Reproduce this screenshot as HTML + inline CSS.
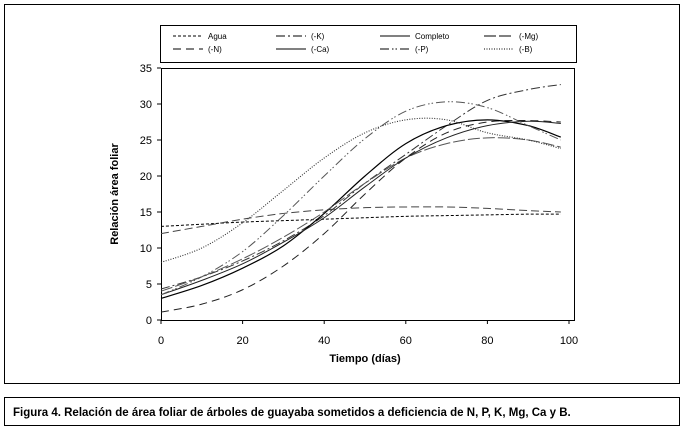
<!DOCTYPE html>
<html><head><meta charset="utf-8"><style>
body{margin:0;background:#fff;width:684px;height:430px;overflow:hidden;font-family:"Liberation Sans Narrow","Liberation Sans",sans-serif}
</style></head><body>
<svg width="684" height="430" xmlns="http://www.w3.org/2000/svg" id="svg" font-family="Liberation Sans Narrow, Liberation Sans, sans-serif">
<rect x="4.5" y="4.5" width="675" height="379" fill="none" stroke="#000" stroke-width="1"/>
<rect x="4.5" y="397.5" width="675" height="28" fill="none" stroke="#000" stroke-width="1"/>
<text x="13" y="416" font-size="11.5" font-weight="bold">Figura 4. Relación de área foliar de árboles de guayaba sometidos a deficiencia de N, P, K, Mg, Ca y B.</text>
<rect x="160.5" y="25.5" width="416" height="37" fill="none" stroke="#000" stroke-width="1"/>
<rect x="161.5" y="68.5" width="413" height="252" fill="none" stroke="#000" stroke-width="1"/>
<text transform="translate(118,194) rotate(-90)" text-anchor="middle" font-size="11" font-weight="bold">Relación área foliar</text>
<text x="365" y="362" text-anchor="middle" font-size="11" font-weight="bold">Tiempo (días)</text>
<g id="axes"></g><g id="lines"></g><g id="legend"></g>
</svg>
<script>
const xTicks=[0,20,40,60,80,100];
const yTicks=[0,5,10,15,20,25,30,35];
const times=[0,10,20,30,40,50,60,70,80,90,98];
const agua=[13,13.3,13.6,13.8,14,14.2,14.4,14.5,14.6,14.7,14.7];
const minusMgFlat=[12,13,14,14.8,15.3,15.6,15.7,15.7,15.5,15.2,15];
const minusN=[1.1,2.2,4.2,7.5,12,17.5,22.5,26,27.5,27.7,27.5];
const minusK=[4.3,6,8.2,11,14.5,19,23,27,30.5,32,32.7];
const completo=[3,4.8,7.2,10.3,14.8,20,24.5,27,27.8,27,25.4];
const minusMg=[4,6,8.5,11.5,15,19,22.5,24.5,25.3,25,24];
const minusCa=[3.5,5.5,7.8,10.8,14.2,18.5,22.5,25.3,27,27.6,27.3];
const minusP=[3.5,6,9.5,14.5,20,25.2,29,30.3,29.5,27,25];
const minusB=[8,10,13.5,18,22.5,26,27.8,27.8,26,25,23.8];
const X=v=>161+v*4.08, Y=v=>320-v*7.2;
const NS='http://www.w3.org/2000/svg';
function mk(t,a,p){const e=document.createElementNS(NS,t);for(const k in a)e.setAttribute(k,a[k]);p.appendChild(e);return e;}
const ax=document.getElementById('axes');
xTicks.forEach(v=>{const t=mk('text',{x:X(v),y:344,'text-anchor':'middle','font-size':11},ax);t.textContent=v;


const l=mk('line',{x1:X(v),x2:X(v),y1:320,y2:324,stroke:'#000'},ax);

});
yTicks.forEach(v=>{const t=mk('text',{x:152,y:Y(v)+4,'text-anchor':'end','font-size':11},ax);t.textContent=v;


const l=mk('line',{x1:157,x2:161,y1:Y(v),y2:Y(v),stroke:'#000'},ax);

});
function path(vals){const p=times.map((t,i)=>[X(t),Y(vals[i])]);let d='M'+p[0];
for(let i=0;i<p.length-1;i++){const a=p[i-1]||p[i],b=p[i],c=p[i+1],e=p[i+2]||c;
d+=' C'+(b[0]+(c[0]-a[0])/6)+','+(b[1]+(c[1]-a[1])/6)+' '+(c[0]-(e[0]-b[0])/6)+','+(c[1]-(e[1]-b[1])/6)+' '+c;}return d;}
const series=[
['agua',agua,'#000','3,2',1],['mg-flat',minusMgFlat,'#444','8,4',1],['minus-n',minusN,'#222','8,5',1],
['minus-k',minusK,'#333','9,3,2,3',1],['completo',completo,'#000','',1.2],['minus-mg',minusMg,'#555','12,3',1],
['minus-ca',minusCa,'#222','',1],['minus-p',minusP,'#555','9,3,1.5,2,1.5,3',1],['minus-b',minusB,'#333','1,1.5',1.1]];
const lg=document.getElementById('lines');
series.forEach(s=>{const e=mk('path',{d:path(s[1]),fill:'none',stroke:s[2],'stroke-width':s[4],'stroke-dasharray':s[3]},lg);

});
const leg=[['Agua','3,2',193,39],['(-K)','9,3,2,3',296,39],['Completo','',400,39],['(-Mg)','12,3',504,39],
['(-N)','8,5',193,52],['(-Ca)','',296,52],['(-P)','9,3,1.5,2,1.5,3',400,52],['(-B)','1,1.5',504,52]];
const lgg=document.getElementById('legend');
leg.forEach(l=>{const ln=mk('line',{x1:l[2]-20,x2:l[2]+10,y1:l[3]-3,y2:l[3]-3,stroke:'#000','stroke-dasharray':l[1]},lgg);


const t=mk('text',{x:l[2]+15,y:l[3],'font-size':8},lgg);t.textContent=l[0];

});
</script>
</body></html>
